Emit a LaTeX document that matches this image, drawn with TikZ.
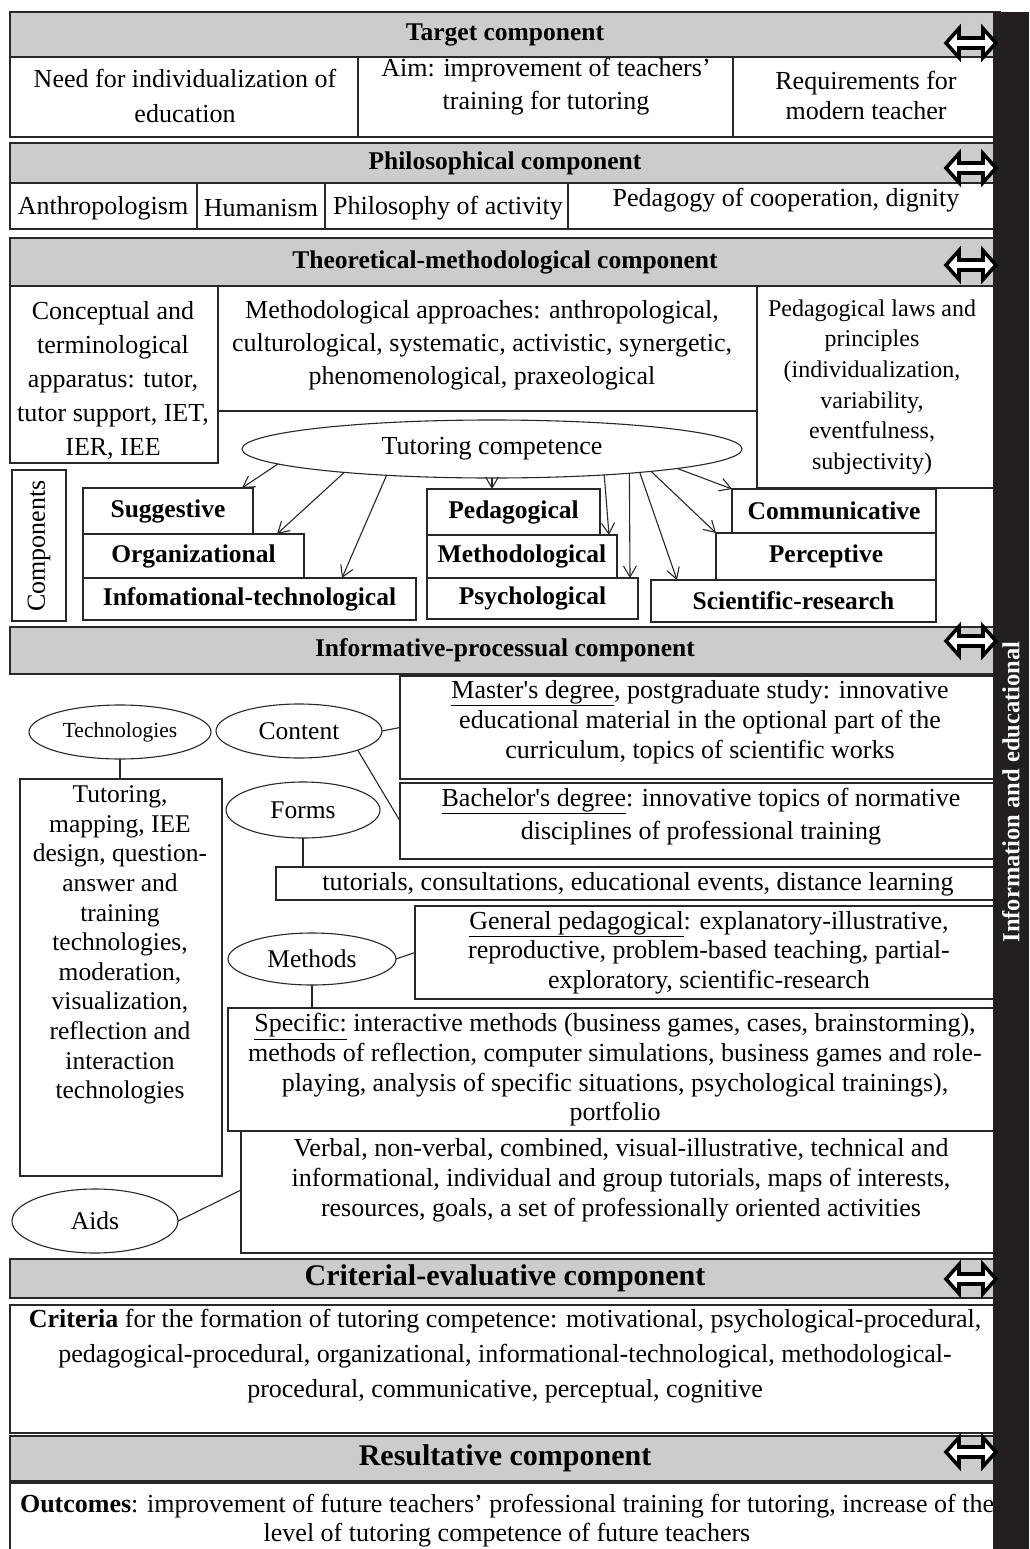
\documentclass[tikz,border=0pt]{standalone}
\usepackage{fontspec}
\setmainfont{Liberation Serif}
\usetikzlibrary{arrows.meta,shapes.geometric,calc}
\newcommand\fsz[2]{\fontsize{#1}{#2}\selectfont}
\definecolor{barc}{RGB}{35,31,32}
\definecolor{lnc}{RGB}{40,40,40}
\begin{document}
\begin{tikzpicture}[x=1pt,y=-1pt,
  bx/.style={draw=lnc, line width=1.2pt, inner sep=0pt, outer sep=0pt, anchor=north west},
  hdr/.style={bx, fill=gray!40, font=\bfseries\fsz{25.5}{30}},
  hdrb/.style={bx, fill=gray!40, font=\bfseries\fsz{30}{34}},
  cb/.style={bx, font=\bfseries\fsz{25.5}{30}},
  tx/.style={align=center, inner sep=0pt, font=\fsz{26}{35}},
  el/.style={ellipse, draw=lnc, line width=1.1pt, inner sep=0pt, outer sep=0pt, font=\fsz{25.5}{30}},
  ln/.style={draw=lnc, line width=1.1pt},
  ar/.style={ln, -{Straight Barb[length=11pt,width=13pt]}},
  dblarr/.pic={\draw[line width=3.6pt, fill=white, line join=miter]
     (-25,0) -- (-12,-14.5) -- (-12,-5) -- (12,-5) -- (12,-14.5) -- (25,0)
     -- (12,14.5) -- (12,5) -- (-12,5) -- (-12,14.5) -- cycle;}
]
\path[fill=white,use as bounding box] (0,0) rectangle (1029,1549);

% ---------- Target component
\node[hdr, minimum width=990, minimum height=45] (h1) at (10,12) {Target component};
\node[bx, minimum width=348, minimum height=80] (c11) at (10,57) {};
\node[bx, minimum width=375, minimum height=80] (c12) at (358,57) {};
\node[bx, minimum width=267, minimum height=80] (c13) at (733,57) {};
\node[tx] (t11) at (185,95.5) {Need for individualization of\\education};
\node[tx, font=\fsz{26}{33}] (t12) at (546,86.5) {Aim: improvement of teachers’\\training for tutoring};
\node[tx, font=\fsz{26}{30}] (t13) at (866,95) {Requirements for\\modern teacher};

% ---------- Philosophical component
\node[hdr, minimum width=990, minimum height=40] (h2) at (10,143) {Philosophical component};
\node[bx, minimum width=187, minimum height=46] (p1) at (10,183) {};
\node[bx, minimum width=128, minimum height=46] (p2) at (197,183) {};
\node[bx, minimum width=243, minimum height=46] (p3) at (325,183) {};
\node[bx, minimum width=432, minimum height=46] (p4) at (568,183) {};
\node[tx] (tp1) at (103,208) {Anthropologism};
\node[tx] (tp2) at (261,208) {Humanism};
\node[tx] (tp3) at (448,208) {Philosophy of activity};
\node[tx] (tp4) at (786,200) {Pedagogy of cooperation, dignity};

% ---------- Theoretical-methodological component
\node[hdr, minimum width=990, minimum height=48] (h3) at (10,238) {Theoretical-methodological component};
\node[bx, minimum width=208, minimum height=177] (conc) at (10,286) {};
\node[bx, minimum width=539, minimum height=125] (methb) at (218,286) {};
\node[bx, minimum width=243, minimum height=202] (laws) at (757,286) {};
\node[tx, font=\fsz{26}{34}] (tconc) at (113,380) {Conceptual and\\terminological\\apparatus: tutor,\\tutor support, IET,\\IER, IEE};
\node[tx, font=\fsz{26}{33}] (tmeth) at (482,345) {Methodological approaches: anthropological,\\culturological, systematic, activistic, synergetic,\\phenomenological, praxeological};
\node[tx, font=\fsz{24}{30.6}] (tlaws) at (872,387) {Pedagogical laws and\\principles\\(individualization,\\variability,\\eventfulness,\\subjectivity)};
\node[el, fill=white, minimum width=500, minimum height=58, font=\fsz{26}{30}] (tc) at (492,449) {Tutoring competence};

\node[bx, minimum width=54, minimum height=151] (compl) at (12,470) {};
\node[tx, rotate=90] (tcomp) at (39,546) {Components};

\node[cb, minimum width=170, minimum height=46] (sug) at (83,488) {Suggestive};
\node[cb, minimum width=221, minimum height=44] (org) at (83,534) {Organizational};
\node[cb, minimum width=333, minimum height=42] (inf) at (83,578) {Infomational-technological};
\node[cb, minimum width=173, minimum height=46] (ped) at (427,489) {Pedagogical};
\node[cb, minimum width=190, minimum height=43] (metc) at (427,535) {Methodological};
\node[cb, minimum width=211, minimum height=41] (psy) at (427,578) {Psychological};
\node[cb, minimum width=204, minimum height=44] (com) at (732,489) {Communicative};
\node[cb, minimum width=220, minimum height=47] (per) at (716,533) {Perceptive};
\node[cb, minimum width=285, minimum height=42] (sci) at (651,580) {Scientific-research};

\draw[ar] (tc.184.2) -- ($(sug.north east)+(-11,0)$);
\draw[ar] (tc.189.07) -- ($(org.north east)+(-27,0)$);
\draw[ar] (tc.194.24) -- ($(inf.north west)+(259,0)$);
\draw[ar] (tc.south) -- (tc.south |- ped.north);
\draw[ar] (tc.347.65) -- ($(metc.north east)+(-8,0)$);
\draw[ar] (tc.350.05) -- ($(psy.north east)+(-8,0)$);
\draw[ar] (tc.351.2) -- ($(sci.north west)+(26,0)$);
\draw[ar] (tc.352.46) -- (per.north west);
\draw[ar] (tc.354.4) -- (com.north west);

% ---------- Informative-processual component
\node[hdr, minimum width=990, minimum height=47] (h4) at (10,627) {Informative-processual component};
\node[el, minimum width=182, minimum height=54, font=\fsz{21.5}{25}] (techE) at (120,732) {Technologies};
\node[el, minimum width=166, minimum height=54] (contE) at (299,731) {Content};
\node[bx, minimum width=600, minimum height=103] (mast) at (400,676) {};
\node[bx, minimum width=600, minimum height=76] (bach) at (400,783) {};
\node[bx, minimum width=202, minimum height=397] (techB) at (20,779) {};
\node[el, minimum width=154, minimum height=56] (formsE) at (303,810) {Forms};
\node[bx, minimum width=724, minimum height=33] (tut) at (276,867) {};
\node[bx, minimum width=585, minimum height=93] (gen) at (415,906) {};
\node[el, minimum width=168, minimum height=52] (methE) at (312,959) {Methods};
\node[bx, minimum width=772, minimum height=123] (spec) at (228,1008) {};
\node[bx, minimum width=759, minimum height=122] (aidsB) at (241,1131) {};
\node[el, minimum width=166, minimum height=64] (aidsE) at (95,1221) {Aids};

\node[tx, font=\fsz{26}{30}] (tmast) at (700,722) {\underline{Master\textquotesingle s degree}, postgraduate study: innovative\\educational material in the optional part of the\\curriculum, topics of scientific works};
\node[tx, font=\fsz{26}{33}] (tbach) at (701,816.5) {\underline{Bachelor\textquotesingle s degree}: innovative topics of normative\\disciplines of professional training};
\node[tx, font=\fsz{25.5}{29.6}] (ttech) at (120,945) {Tutoring,\\mapping, IEE\\design, question-\\answer and\\training\\technologies,\\moderation,\\visualization,\\reflection and\\interaction\\technologies};
\node[tx] (ttut) at (638,884) {tutorials, consultations, educational events, distance learning};
\node[tx, font=\fsz{26}{29.5}] (tgen) at (709,952.7) {\underline{General pedagogical}: explanatory-illustrative,\\reproductive, problem-based teaching, partial-\\exploratory, scientific-research};
\node[tx, font=\fsz{26}{29.6}] (tspec) at (615,1070) {\underline{Specific:} interactive methods (business games, cases, brainstorming),\\methods of reflection, computer simulations, business games and role-\\playing, analysis of specific situations, psychological trainings),\\portfolio};
\node[tx, font=\fsz{26}{30}] (taids) at (621,1180) {Verbal, non-verbal, combined, visual-illustrative, technical and\\informational, individual and group tutorials, maps of interests,\\resources, goals, a set of professionally oriented activities};

\draw[ln] (contE.east) -- (mast.west);
\draw[ln] (contE.-18) -- (bach.west);
\draw[ln] (techE.south) -- (techE.south |- techB.north);
\draw[ln] (formsE.south) -- (formsE.south |- tut.north);
\draw[ln] (methE.east) -- (gen.west);
\draw[ln] (methE.south) -- (methE.south |- spec.north);
\draw[ln] (aidsE.east) -- ($(aidsB.north west)+(0,59)$);

% ---------- Criterial-evaluative component
\node[hdrb, minimum width=990, minimum height=39] (h5) at (10,1259) {Criterial-evaluative component};
\node[bx, minimum width=990, minimum height=128] (crit) at (10,1305) {};
\node[tx] (tcrit) at (505,1356) {\textbf{Criteria} for the formation of tutoring competence: motivational, psychological-procedural,\\pedagogical-procedural, organizational, informational-technological, methodological-\\procedural, communicative, perceptual, cognitive};

% ---------- Resultative component
\node[hdrb, minimum width=990, minimum height=45] (h6) at (10,1436) {Resultative component};
\node[bx, minimum width=990, minimum height=80] (res) at (10,1483) {};
\node[tx, font=\fsz{26}{29}] (tres) at (507,1520.5) {\textbf{Outcomes}: improvement of future teachers’ professional training for tutoring, increase of the\\level of tutoring competence of future teachers};

% ---------- side bar
\node[fill=barc, anchor=north west, minimum width=36, minimum height=1537, inner sep=0pt, outer sep=0pt] (bar) at (993,12) {};
\node[rotate=90, text=white, inner sep=0pt, font=\bfseries\fsz{24.5}{28}] (bart) at (1011,792) {Information and educational};

\pic at (971,43) {dblarr};
\pic at (971,168) {dblarr};
\pic at (971,265) {dblarr};
\pic at (971,641) {dblarr};
\pic at (971,1279) {dblarr};
\pic at (971,1452) {dblarr};
\end{tikzpicture}
\end{document}
